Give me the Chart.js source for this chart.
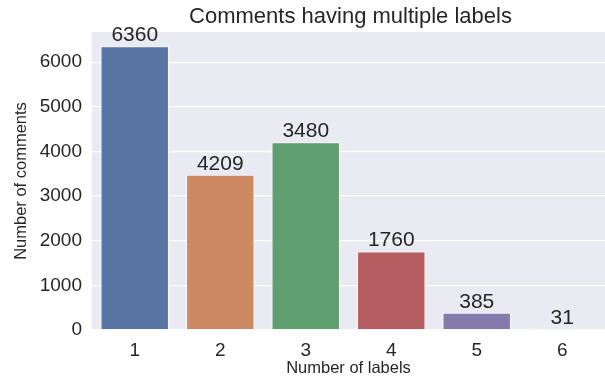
<!DOCTYPE html>
<html>
<head>
<meta charset="utf-8">
<script src="https://cdn.jsdelivr.net/npm/chart.js@4/dist/chart.umd.min.js"></script>
<style>
  html, body { margin: 0; padding: 0; background: #fff; }
  #wrap { width: 605px; height: 378px; }
</style>
</head>
<body>
<div id="wrap"><canvas id="labelsChart"></canvas></div>
<script>
// data
var categories = ['1', '2', '3', '4', '5', '6'];
var counts = [6360, 3480, 4209, 1760, 385, 31];
// the annotations printed above the bars (as in the picture, 2 and 3 swapped)
var barTexts = ['6360', '4209', '3480', '1760', '385', '31'];
var yTicks = [0, 1000, 2000, 3000, 4000, 5000, 6000];
var barColors = ['#5975a4', '#cc8963', '#5f9e6e', '#b55d60', '#857aab', '#8d7866'];
var chartTitle = 'Comments having multiple labels';

var textColor = '#262626';
var fontFamily = '"Liberation Sans", Arial, sans-serif';

// seaborn darkgrid background + title centred over the plot area
var backgroundPlugin = {
    id: 'plotBackground',
    beforeDraw: function(chart) {
        var a = chart.chartArea;
        var ctx = chart.ctx;
        ctx.save();
        ctx.fillStyle = '#eaeaf2';
        ctx.fillRect(a.left, a.top, a.right - a.left, a.bottom - a.top);
        ctx.fillStyle = textColor;
        ctx.font = '22px ' + fontFamily;
        ctx.textAlign = 'center';
        ctx.textBaseline = 'middle';
        ctx.fillText(chartTitle, (a.left + a.right + 4) / 2, 17);
        ctx.restore();
    }
};

// text above every bar
var barTextPlugin = {
    id: 'barTexts',
    afterDatasetsDraw: function(chart) {
        var ctx = chart.ctx;
        var meta = chart.getDatasetMeta(0);
        ctx.save();
        ctx.fillStyle = textColor;
        ctx.font = '21px ' + fontFamily;
        ctx.textAlign = 'center';
        ctx.textBaseline = 'alphabetic';
        meta.data.forEach(function(bar, i) {
            ctx.fillText(barTexts[i], bar.x, bar.y - 5);
        });
        ctx.restore();
    }
};

var ctx = document.getElementById('labelsChart').getContext('2d');
var labelsChart = new Chart(ctx, {
    type: 'bar',
    data: {
        labels: categories,
        datasets: [{
            data: counts,
            backgroundColor: barColors,
            borderColor: 'rgba(255, 255, 255, 0.7)',
            borderWidth: 1,
            barPercentage: 0.8,
            categoryPercentage: 1.0
        }]
    },
    options: {
        responsive: true,
        maintainAspectRatio: false,
        animation: false,
        layout: { padding: { left: 0, right: 0, top: 32, bottom: 0 } },
        plugins: {
            legend: { display: false },
            tooltip: { enabled: false },
            title: { display: false }
        },
        scales: {
            x: {
                offset: true,
                grid: { display: false },
                border: { display: false },
                ticks: {
                    color: textColor,
                    font: { family: fontFamily, size: 19 },
                    padding: 1
                },
                title: {
                    display: true,
                    text: 'Number of labels',
                    color: textColor,
                    font: { family: fontFamily, size: 16.5 },
                    padding: { top: 0, bottom: 0 }
                },
                afterFit: function(scale) { scale.height = 48; }
            },
            y: {
                min: 0,
                max: 6678,
                afterBuildTicks: function(scale) {
                    scale.ticks = yTicks.map(function(v) { return { value: v }; });
                },
                grid: { color: '#ffffff', lineWidth: 1.3, drawTicks: false },
                border: { display: false },
                ticks: {
                    color: textColor,
                    font: { family: fontFamily, size: 19 },
                    padding: 10,
                    callback: function(v) { return String(v); }
                },
                title: {
                    display: true,
                    text: 'Number of comments',
                    color: textColor,
                    font: { family: fontFamily, size: 16.5 },
                    padding: { top: 12, bottom: 0 }
                },
                afterFit: function(scale) { scale.width = 92; }
            }
        }
    },
    plugins: [backgroundPlugin, barTextPlugin]
});
</script>
</body>
</html>
